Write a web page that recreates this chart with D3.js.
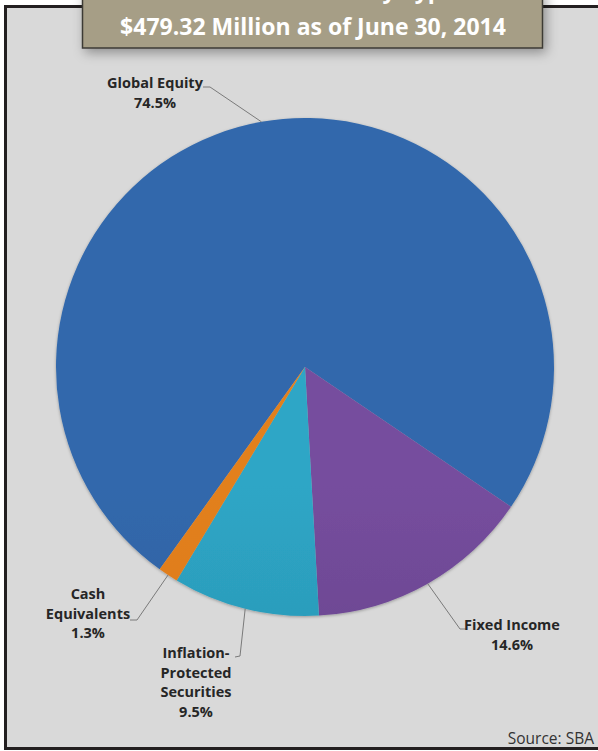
<!DOCTYPE html>
<html>
<head>
<meta charset="utf-8">
<script src="https://cdn.jsdelivr.net/npm/d3@7"></script>
<style>
  body { margin: 0; background: #fff; }
  svg { display: block; }
</style>
</head>
<body>
<div id="chart-container"></div>
<script>
// Data
var categories = ['Global Equity', 'Fixed Income', 'Inflation-Protected Securities', 'Cash Equivalents']
var shares = [74.5, 14.6, 9.5, 1.3]
var labelLines = [
  ['Global Equity'],
  ['Fixed Income'],
  ['Inflation-', 'Protected', 'Securities'],
  ['Cash', 'Equivalents']
]
var titleLines = ['Asset Allocation by Type', '$479.32 Million as of June 30, 2014']
var sourceText = 'Source: SBA'

var WIDTH = 598
var HEIGHT = 751
var CX = 305
var CY = 367
var RADIUS = 249
var START_ANGLE = -144.3 * Math.PI / 180

// top / bottom gradient stops for each slice
var sliceColors = [
  ['#3168ac', '#2a5793'],
  ['#764e9e', '#583a7a'],
  ['#2ea6c6', '#2585a1'],
  ['#e2801f', '#d8741a']
]

// label placement: first baseline, leader elbow and end
var labelLayout = [
  {x: 155, y: 88, elbow: [210, 87], end: [203, 87]},
  {x: 512, y: 630, elbow: [460, 629], end: [466, 629]},
  {x: 196, y: 658, elbow: [240, 656], end: [235, 657]},
  {x: 88, y: 599, elbow: [137, 620], end: [130, 620]}
]
var LINE_STEP = 19.7

var svg = d3.select('#chart-container')
  .append('svg')
  .attr('width', WIDTH)
  .attr('height', HEIGHT)

var defs = svg.append('defs')

var shadow = defs.append('filter')
  .attr('id', 'box-shadow')
  .attr('x', '-10%').attr('y', '-10%')
  .attr('width', '130%').attr('height', '160%')
shadow.append('feDropShadow')
  .attr('dx', 3).attr('dy', 4)
  .attr('stdDeviation', 6)
  .attr('flood-color', '#000')
  .attr('flood-opacity', 0.35)

var pieShadow = defs.append('filter')
  .attr('id', 'pie-shadow')
  .attr('x', '-5%').attr('y', '-5%')
  .attr('width', '110%').attr('height', '110%')
pieShadow.append('feDropShadow')
  .attr('dx', 0).attr('dy', 1)
  .attr('stdDeviation', 1.5)
  .attr('flood-color', '#000')
  .attr('flood-opacity', 0.3)

sliceColors.forEach(function(c, i) {
  var g = defs.append('linearGradient')
    .attr('id', 'slice-grad-' + i)
    .attr('gradientUnits', 'userSpaceOnUse')
    .attr('x1', 0).attr('x2', 0)
    .attr('y1', CY - RADIUS).attr('y2', CY + RADIUS)
  g.append('stop').attr('offset', '0%').attr('stop-color', c[0])
  g.append('stop').attr('offset', '100%').attr('stop-color', c[1])
})

// Panel with dark frame
svg.append('rect')
  .attr('x', 5.5)
  .attr('y', 6.5)
  .attr('width', 620)
  .attr('height', 742)
  .attr('fill', '#d9d9d9')
  .attr('stroke', '#231f20')
  .attr('stroke-width', 3)

// Pie
var pie = d3.pie()
  .sort(null)
  .value(function(d) { return d })
  .startAngle(START_ANGLE)
  .endAngle(START_ANGLE + 2 * Math.PI)

var arc = d3.arc()
  .innerRadius(0)
  .outerRadius(RADIUS)

var edgeArc = d3.arc()
  .innerRadius(RADIUS)
  .outerRadius(RADIUS)

var arcs = pie(shares)

var pieGroup = svg.append('g')
  .attr('transform', 'translate(' + CX + ',' + CY + ')')
  .attr('filter', 'url(#pie-shadow)')

pieGroup.selectAll('path')
  .data(arcs)
  .enter()
  .append('path')
  .attr('d', arc)
  .attr('fill', function(d, i) { return 'url(#slice-grad-' + i + ')' })
  .append('title')
  .text(function(d, i) { return categories[i] })

// Leader lines
svg.append('g')
  .selectAll('polyline')
  .data(arcs)
  .enter()
  .append('polyline')
  .attr('points', function(d, i) {
    var p = edgeArc.centroid(d)
    var l = labelLayout[i]
    return [[p[0] + CX, p[1] + CY], l.elbow, l.end].join(' ')
  })
  .attr('fill', 'none')
  .attr('stroke', '#7a7a7a')
  .attr('stroke-width', 1)

// Labels
var labels = svg.append('g')
  .attr('font-family', '"Open Sans", sans-serif')
  .attr('font-weight', 'bold')
  .attr('font-size', 14.5)
  .attr('fill', '#262626')
  .attr('text-anchor', 'middle')

arcs.forEach(function(d, i) {
  var l = labelLayout[i]
  var lines = labelLines[i].concat([d3.format('.1f')(shares[i]) + '%'])
  var t = labels.append('text')
    .attr('x', l.x)
    .attr('y', l.y)
  lines.forEach(function(s, j) {
    t.append('tspan')
      .attr('x', l.x)
      .attr('y', l.y + j * LINE_STEP)
      .text(s)
  })
})

// Title box (top line runs off the page, as in the original)
svg.append('rect')
  .attr('x', 82.5)
  .attr('y', -10)
  .attr('width', 460)
  .attr('height', 58)
  .attr('fill', '#a69e86')
  .attr('stroke', '#3c3a36')
  .attr('stroke-width', 1.5)
  .attr('filter', 'url(#box-shadow)')

var title = svg.append('g')
  .attr('font-family', '"Open Sans", sans-serif')
  .attr('font-weight', 'bold')
  .attr('font-size', 23)
  .attr('fill', '#ffffff')

title.append('text')
  .attr('x', 456)
  .attr('y', -2)
  .attr('text-anchor', 'end')
  .text(titleLines[0])

title.append('text')
  .attr('x', 313)
  .attr('y', 35)
  .attr('text-anchor', 'middle')
  .text(titleLines[1])

// Source note
svg.append('text')
  .attr('x', 594)
  .attr('y', 744)
  .attr('text-anchor', 'end')
  .attr('font-family', '"Open Sans", sans-serif')
  .attr('font-size', 15.5)
  .attr('fill', '#333333')
  .text(sourceText)
</script>
</body>
</html>
